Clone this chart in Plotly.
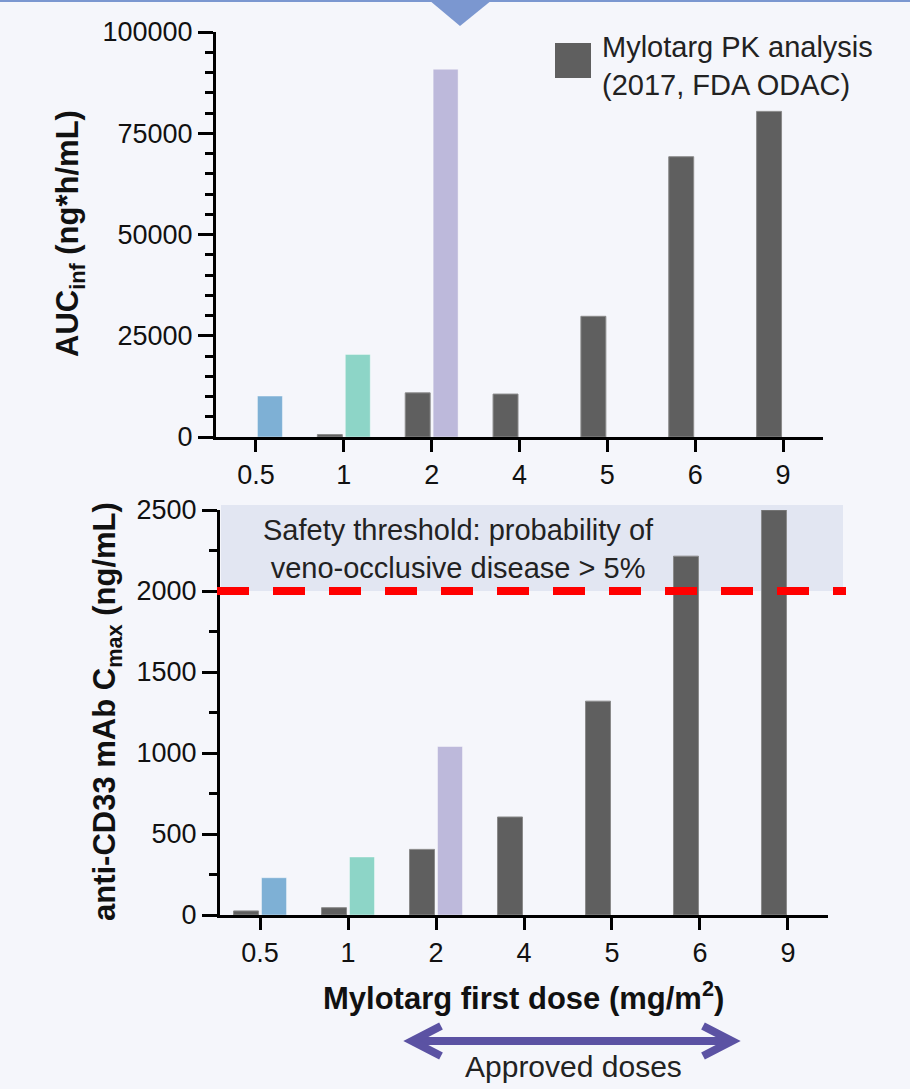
import plotly.graph_objects as go

W, H = 910, 1089

# ---------------- data ----------------
doses = ["0.5", "1", "2", "4", "5", "6", "9"]
auc_pk = [None, 600, 10900, 10600, 29800, 69200, 80400]
auc_other = [10100, 20400, 90800, None, None, None, None]
cmax_pk = [25, 45, 405, 605, 1320, 2215, 2500]
cmax_other = [230, 358, 1040, None, None, None, None]
other_colors = ["#7EB0D5", "#8DD5C7", "#BDB9DB", "#BDB9DB", "#BDB9DB", "#BDB9DB", "#BDB9DB"]
auc_ticks = [0, 25000, 50000, 75000, 100000]
auc_ticktext = ["0", "25000", "50000", "75000", "100000"]
cmax_ticks = [0, 500, 1000, 1500, 2000, 2500]
cmax_ticktext = ["0", "500", "1000", "1500", "2000", "2500"]
threshold = 2000
legend_text = "Mylotarg PK analysis<br>(2017, FDA ODAC)"
threshold_text = "Safety threshold: probability of<br>veno-occlusive disease > 5%"

FONT = "Liberation Sans, Arial, Helvetica, sans-serif"
BG = "#F5F6FB"
GRAY = "#5F5F5F"
ACCENT = "#7B97D0"
PURPLE = "#5B52A3"


def px(x):
    return x / W


def py(y):
    return 1 - y / H


# bottom panel pixel geometry (for overlays tied to value scale)
B_Y0, B_Y1, B_MAX = 915, 510, 2500


def cmax_py(v):
    return py(B_Y0 - v * (B_Y0 - B_Y1) / B_MAX)


fig = go.Figure()

fig.add_trace(go.Bar(x=doses, y=auc_pk, xaxis="x", yaxis="y", marker=dict(color=GRAY, line=dict(color="#8a8a8a", width=1)), showlegend=False))
fig.add_trace(go.Bar(x=doses, y=auc_other, xaxis="x", yaxis="y", marker=dict(color=other_colors, line=dict(color="rgba(255,255,255,0.4)", width=1)), showlegend=False))
fig.add_trace(go.Bar(x=doses, y=cmax_pk, xaxis="x2", yaxis="y2", marker=dict(color=GRAY, line=dict(color="#8a8a8a", width=1)), showlegend=False))
fig.add_trace(go.Bar(x=doses, y=cmax_other, xaxis="x2", yaxis="y2", marker=dict(color=other_colors, line=dict(color="rgba(255,255,255,0.4)", width=1)), showlegend=False))

tickfont = dict(family=FONT, size=27, color="#111")
common_x = dict(type="category", range=[-0.455, 6.455], showline=True, linewidth=3, linecolor="black",
                ticks="outside", ticklen=12, tickwidth=3, tickcolor="black", tickfont=tickfont,
                showgrid=False, zeroline=False, fixedrange=True, automargin=False)
common_y = dict(showline=True, linewidth=3, linecolor="black", ticks="outside", ticklen=15, tickwidth=3,
                tickcolor="black", tickfont=tickfont, showgrid=False, zeroline=False, tickmode="array",
                automargin=False, fixedrange=True)

fig.update_layout(
    width=W, height=H, autosize=False,
    margin=dict(l=0, r=0, t=0, b=0, pad=0, autoexpand=False),
    paper_bgcolor=BG, plot_bgcolor=BG,
    barmode="group", bargap=0.364, bargroupgap=0.107,
    font=dict(family=FONT, color="#222"),
    xaxis=dict(domain=[px(216), px(823)], anchor="y", **common_x),
    yaxis=dict(domain=[py(437), py(32)], anchor="x", range=[0, 100000], tickvals=auc_ticks, ticktext=auc_ticktext,
               minor=dict(tickmode="linear", tick0=0, dtick=5000, ticks="outside", ticklen=8, tickwidth=3, tickcolor="black", showgrid=False),
               **common_y),
    xaxis2=dict(domain=[px(220), px(828)], anchor="y2", **common_x),
    yaxis2=dict(domain=[py(B_Y0), py(B_Y1)], anchor="x2", range=[0, B_MAX], tickvals=cmax_ticks, ticktext=cmax_ticktext,
                minor=dict(tickmode="linear", tick0=0, dtick=250, ticks="outside", ticklen=8, tickwidth=3, tickcolor="black", showgrid=False),
                **common_y),
)

shapes = []
# top accent line and triangle
shapes.append(dict(type="rect", xref="paper", yref="paper", x0=0, x1=1, y0=py(2), y1=1, fillcolor=ACCENT, line=dict(width=0)))
shapes.append(dict(type="path", xref="paper", yref="paper",
                   path=f"M {px(429)},{py(0)} L {px(492)},{py(0)} L {px(460)},{py(26)} Z",
                   fillcolor=ACCENT, line=dict(width=0)))
# safety region shading
shapes.append(dict(type="rect", xref="paper", yref="paper", x0=px(221), x1=px(843), y0=cmax_py(threshold), y1=py(505),
                   fillcolor="#E2E6F2", line=dict(width=0), layer="below"))
# threshold dashed line
shapes.append(dict(type="line", xref="paper", yref="paper", x0=px(217), x1=px(846), y0=cmax_py(threshold), y1=cmax_py(threshold),
                   line=dict(color="#FF0000", width=8, dash="32px,24px"), layer="above"))
# legend swatch
shapes.append(dict(type="rect", xref="paper", yref="paper", x0=px(555), x1=px(591), y0=py(78), y1=py(43),
                   fillcolor=GRAY, line=dict(width=0)))
# approved doses arrow
shapes.append(dict(type="line", xref="paper", yref="paper", x0=px(414), x1=px(730), y0=py(1041), y1=py(1041),
                   line=dict(color=PURPLE, width=8)))
shapes.append(dict(type="path", xref="paper", yref="paper",
                   path=f"M {px(441)},{py(1026)} L {px(412)},{py(1041)} L {px(441)},{py(1056)}",
                   line=dict(color=PURPLE, width=8)))
shapes.append(dict(type="path", xref="paper", yref="paper",
                   path=f"M {px(703)},{py(1026)} L {px(732)},{py(1041)} L {px(703)},{py(1056)}",
                   line=dict(color=PURPLE, width=8)))
fig.update_layout(shapes=shapes)

ann = []
ann.append(dict(text="<b>AUC<sub>inf</sub> (ng*h/mL)</b>", textangle=-90, x=px(70), y=py(234), xref="paper", yref="paper",
                showarrow=False, xanchor="center", yanchor="middle", font=dict(size=31, color="#111")))
ann.append(dict(text="<b>anti-CD33 mAb C<sub>max</sub> (ng/mL)</b>", textangle=-90, x=px(107), y=py(712), xref="paper", yref="paper",
                showarrow=False, xanchor="center", yanchor="middle", font=dict(size=31, color="#111")))
ann.append(dict(text="<b>Mylotarg first dose (mg/m<sup>2</sup>)</b>", x=px(523), y=py(996), xref="paper", yref="paper",
                showarrow=False, xanchor="center", yanchor="middle", font=dict(size=31, color="#111")))
ann.append(dict(text=legend_text, x=px(600), y=py(66), xref="paper", yref="paper", showarrow=False, align="left",
                xanchor="left", yanchor="middle", font=dict(size=29, color="#222")))
ann.append(dict(text=threshold_text, x=px(458), y=py(549), xref="paper", yref="paper", showarrow=False, align="center",
                xanchor="center", yanchor="middle", font=dict(size=29, color="#222")))
ann.append(dict(text="Approved doses", x=px(573), y=py(1066), xref="paper", yref="paper", showarrow=False,
                xanchor="center", yanchor="middle", font=dict(size=30, color="#222")))
fig.update_layout(annotations=ann)

fig.write_html("out.html", config=dict(displayModeBar=False, responsive=False),
               post_script="document.body.style.margin='0px';document.body.style.overflow='hidden';")
